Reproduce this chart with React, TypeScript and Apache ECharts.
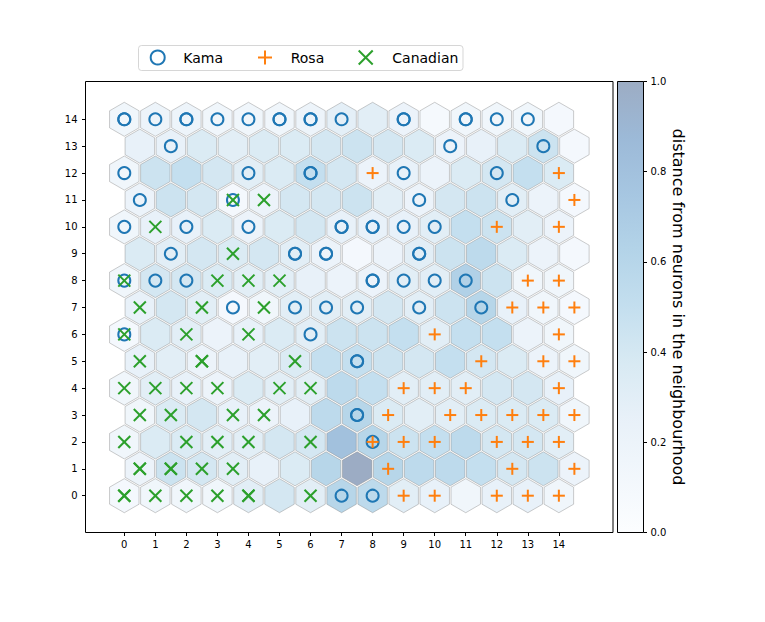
import React, { useEffect, useRef } from "react";
import * as echarts from "echarts";

// U-matrix (distance map), umatrix[row][col], row 0 at bottom
const umatrix: number[][] = [
  [0.1, 0.15, 0.15, 0.15, 0.3, 0.4, 0.3, 0.6, 0.55, 0.3, 0.25, 0.15, 0.25, 0.25, 0.15],
  [0.2, 0.45, 0.4, 0.3, 0.25, 0.35, 0.6, 1.0, 0.6, 0.55, 0.55, 0.5, 0.4, 0.45, 0.2],
  [0.15, 0.35, 0.35, 0.3, 0.3, 0.4, 0.4, 0.8, 0.6, 0.45, 0.5, 0.55, 0.4, 0.4, 0.3],
  [0.15, 0.35, 0.4, 0.25, 0.2, 0.25, 0.55, 0.6, 0.35, 0.3, 0.3, 0.35, 0.35, 0.35, 0.15],
  [0.15, 0.3, 0.25, 0.2, 0.35, 0.3, 0.3, 0.55, 0.5, 0.3, 0.3, 0.3, 0.4, 0.4, 0.25],
  [0.25, 0.3, 0.2, 0.25, 0.3, 0.35, 0.5, 0.5, 0.45, 0.4, 0.5, 0.4, 0.35, 0.2, 0.15],
  [0.1, 0.35, 0.3, 0.2, 0.25, 0.35, 0.3, 0.45, 0.45, 0.5, 0.3, 0.5, 0.5, 0.2, 0.15],
  [0.25, 0.4, 0.3, 0.1, 0.15, 0.3, 0.3, 0.3, 0.4, 0.3, 0.45, 0.6, 0.25, 0.15, 0.1],
  [0.15, 0.4, 0.4, 0.35, 0.3, 0.3, 0.25, 0.2, 0.2, 0.3, 0.3, 0.65, 0.45, 0.15, 0.15],
  [0.35, 0.3, 0.4, 0.35, 0.4, 0.3, 0.2, 0.1, 0.2, 0.3, 0.45, 0.55, 0.35, 0.2, 0.1],
  [0.15, 0.25, 0.25, 0.35, 0.2, 0.35, 0.4, 0.25, 0.25, 0.25, 0.3, 0.5, 0.45, 0.3, 0.2],
  [0.2, 0.45, 0.4, 0.1, 0.2, 0.4, 0.4, 0.45, 0.3, 0.2, 0.4, 0.45, 0.3, 0.2, 0.1],
  [0.15, 0.45, 0.5, 0.4, 0.3, 0.35, 0.5, 0.4, 0.2, 0.25, 0.2, 0.35, 0.4, 0.5, 0.35],
  [0.25, 0.25, 0.35, 0.3, 0.35, 0.35, 0.4, 0.45, 0.4, 0.35, 0.2, 0.25, 0.35, 0.45, 0.1],
  [0.15, 0.18, 0.18, 0.15, 0.15, 0.15, 0.18, 0.28, 0.3, 0.2, 0.08, 0.15, 0.15, 0.15, 0.1],
];

// winning neurons [col, row] of each sample
const kama: [number, number][] = [
  [0, 14], [0, 14], [1, 14], [2, 14], [2, 14], [3, 14], [4, 14], [5, 14], [5, 14], [6, 14], [6, 14],
  [7, 14], [9, 14], [9, 14], [11, 14], [11, 14], [12, 14], [13, 14],
  [1, 13], [10, 13], [13, 13],
  [0, 12], [4, 12], [6, 12], [6, 12], [9, 12], [12, 12],
  [0, 11], [3, 11], [9, 11], [12, 11],
  [0, 10], [2, 10], [4, 10], [7, 10], [7, 10], [8, 10], [8, 10], [9, 10], [10, 10],
  [1, 9], [5, 9], [5, 9], [6, 9], [6, 9], [9, 9], [9, 9],
  [0, 8], [1, 8], [2, 8], [8, 8], [8, 8], [9, 8], [10, 8], [11, 8],
  [3, 7], [5, 7], [6, 7], [7, 7], [9, 7], [11, 7],
  [0, 6], [6, 6],
  [7, 5], [7, 5],
  [7, 3], [7, 3],
  [8, 2],
  [7, 0], [8, 0],
];
const rosa: [number, number][] = [
  [8, 12], [14, 12],
  [14, 11],
  [12, 10], [14, 10],
  [13, 8], [14, 8],
  [12, 7], [13, 7], [14, 7],
  [10, 6], [14, 6],
  [11, 5], [13, 5], [14, 5],
  [9, 4], [10, 4], [11, 4], [14, 4],
  [8, 3], [10, 3], [11, 3], [12, 3], [13, 3], [14, 3],
  [8, 2], [9, 2], [10, 2], [12, 2], [13, 2], [14, 2],
  [8, 1], [12, 1], [14, 1],
  [9, 0], [10, 0], [12, 0], [13, 0], [14, 0],
];
const canadian: [number, number][] = [
  [3, 11], [4, 11],
  [1, 10],
  [3, 9],
  [0, 8], [3, 8], [4, 8], [5, 8],
  [0, 7], [2, 7], [4, 7],
  [0, 6], [2, 6], [4, 6],
  [0, 5], [2, 5], [2, 5], [5, 5],
  [0, 4], [1, 4], [2, 4], [3, 4], [5, 4], [6, 4],
  [0, 3], [1, 3], [3, 3], [4, 3],
  [0, 2], [2, 2], [3, 2], [4, 2], [6, 2],
  [0, 1], [0, 1], [1, 1], [1, 1], [2, 1], [3, 1],
  [0, 0], [0, 0], [1, 0], [2, 0], [3, 0], [4, 0], [4, 0], [6, 0],
];

const xTicks = [0, 1, 2, 3, 4, 5, 6, 7, 8, 9, 10, 11, 12, 13, 14];
const yTicks = [0, 1, 2, 3, 4, 5, 6, 7, 8, 9, 10, 11, 12, 13, 14];
const classNames = ["Kama", "Rosa", "Canadian"];
const classColors = ["#1f77b4", "#ff7f0e", "#2ca02c"];

const BLUES = [
  [247, 251, 255], [222, 235, 247], [198, 219, 239], [158, 202, 225], [107, 174, 214],
  [66, 146, 198], [33, 113, 181], [8, 81, 156], [8, 48, 107],
];
function blues(u: number, alpha = 0.4): string {
  const t = Math.max(0, Math.min(1, u)) * (BLUES.length - 1);
  const i = Math.min(BLUES.length - 2, Math.floor(t));
  const f = t - i;
  const c = BLUES[i].map((v, k) => Math.round(v + (BLUES[i + 1][k] - v) * f));
  return `rgba(${c[0]},${c[1]},${c[2]},${alpha})`;
}

const FONT = "DejaVu Sans";
const toXY = (p: [number, number]) => [p[0] + (p[1] % 2) * 0.5, p[1]];

export default function App() {
  const ref = useRef<HTMLDivElement>(null);
  useEffect(() => {
    if (!ref.current) return;
    const chart = echarts.init(ref.current, null, { renderer: "svg" });
    const hexData: number[][] = [];
    umatrix.forEach((rowVals, r) =>
      rowVals.forEach((u, c) => hexData.push([c + (r % 2) * 0.5, r, u]))
    );

    const markerSeries = [kama, rosa, canadian].map((pts, ci) => ({
      type: "custom",
      name: classNames[ci],
      xAxisIndex: 0,
      yAxisIndex: 0,
      silent: true,
      z: 3 + ci,
      data: pts.map(toXY),
      renderItem: (params: any, api: any) => {
        const c = api.coord([api.value(0), api.value(1)]);
        const col = classColors[ci];
        const s = 6;
        if (ci === 0) {
          return {
            type: "circle",
            shape: { cx: c[0], cy: c[1], r: s },
            style: { fill: "none", stroke: col, lineWidth: 2 },
          };
        }
        const lines =
          ci === 1
            ? [
                [c[0] - s, c[1], c[0] + s, c[1]],
                [c[0], c[1] - s, c[0], c[1] + s],
              ]
            : [
                [c[0] - s, c[1] - s, c[0] + s, c[1] + s],
                [c[0] - s, c[1] + s, c[0] + s, c[1] - s],
              ];
        return {
          type: "group",
          children: lines.map((l) => ({
            type: "line",
            shape: { x1: l[0], y1: l[1], x2: l[2], y2: l[3] },
            style: { stroke: col, lineWidth: 2, lineCap: "butt" },
          })),
        };
      },
    }));

    const gradStops = BLUES.map((_, i) => ({
      offset: i / (BLUES.length - 1),
      color: blues(1 - i / (BLUES.length - 1)),
    }));

    const axisLabelStyle = { color: "#000", fontSize: 10, fontFamily: FONT };

    const lx = 138.5, ly = 45.5;
    const legendChildren: any[] = [
      {
        type: "rect",
        shape: { x: lx, y: ly, width: 324.5, height: 25, r: 3 },
        style: { fill: "rgba(255,255,255,0.8)", stroke: "rgba(204,204,204,0.8)", lineWidth: 1 },
      },
      {
        type: "circle",
        shape: { cx: 157.7, cy: 57.5, r: 7 },
        style: { fill: "none", stroke: classColors[0], lineWidth: 2 },
      },
      { type: "line", shape: { x1: 258, y1: 57.5, x2: 272, y2: 57.5 }, style: { stroke: classColors[1], lineWidth: 2 } },
      { type: "line", shape: { x1: 265, y1: 50.5, x2: 265, y2: 64.5 }, style: { stroke: classColors[1], lineWidth: 2 } },
      { type: "line", shape: { x1: 358.7, y1: 50.5, x2: 372.7, y2: 64.5 }, style: { stroke: classColors[2], lineWidth: 2 } },
      { type: "line", shape: { x1: 358.7, y1: 64.5, x2: 372.7, y2: 50.5 }, style: { stroke: classColors[2], lineWidth: 2 } },
    ];
    [183.3, 290.7, 392.3].forEach((tx, i) =>
      legendChildren.push({
        type: "text",
        x: tx,
        y: 57.5,
        style: {
          text: classNames[i],
          fill: "#000",
          font: `14px "${FONT}"`,
          textVerticalAlign: "middle",
          textAlign: "left",
        },
      })
    );

    chart.setOption({
      animation: false,
      backgroundColor: "#fff",
      grid: [
        { left: 85.5, top: 81.5, width: 527.5, height: 451, show: true, borderColor: "#000", borderWidth: 1, backgroundColor: "transparent" },
        { left: 617.5, top: 81.5, width: 26, height: 451, show: false },
      ],
      xAxis: [
        {
          type: "value",
          gridIndex: 0,
          position: "bottom",
          min: -1.25,
          max: 15.744,
          axisLine: { show: false, onZero: false },
          splitLine: { show: false },
          axisTick: { show: true, length: 3.5, lineStyle: { color: "#000" }, customValues: xTicks },
          axisLabel: { ...axisLabelStyle, margin: 7, customValues: xTicks, formatter: (v: number) => String(Math.round(v)) },
        },
        { type: "value", gridIndex: 1, min: 0, max: 1, show: false, axisLine: { onZero: false } },
      ],
      yAxis: [
        {
          type: "value",
          gridIndex: 0,
          position: "left",
          min: -1.369,
          max: 15.406,
          axisLine: { show: false, onZero: false },
          splitLine: { show: false },
          axisTick: { show: true, length: 3.5, lineStyle: { color: "#000" }, customValues: yTicks },
          axisLabel: { ...axisLabelStyle, margin: 8, customValues: yTicks, formatter: (v: number) => String(Math.round(v)) },
        },
        {
          type: "value",
          gridIndex: 1,
          position: "right",
          min: 0,
          max: 1,
          interval: 0.2,
          axisLine: { show: false, onZero: false },
          splitLine: { show: false },
          axisTick: { show: true, length: 3.5, lineStyle: { color: "#000" } },
          axisLabel: { ...axisLabelStyle, margin: 7, formatter: (v: number) => v.toFixed(1) },
          name: "distance from neurons in the neighbourhood",
          nameLocation: "middle",
          nameRotate: -90,
          nameGap: 26,
          nameTextStyle: { color: "#000", fontSize: 16, fontFamily: FONT },
        },
      ],
      graphic: [{ type: "group", children: legendChildren }],
      series: [
        {
          type: "custom",
          xAxisIndex: 0,
          yAxisIndex: 0,
          silent: true,
          z: 2,
          data: hexData,
          renderItem: (params: any, api: any) => {
            const c = api.coord([api.value(0), api.value(1)]);
            const ux = api.size([1, 0])[0];
            const R = (0.95 / Math.sqrt(3)) * ux;
            const pts: number[][] = [];
            for (let k = 0; k < 6; k++) {
              const a = Math.PI / 2 + (k * Math.PI) / 3;
              pts.push([c[0] + R * Math.cos(a), c[1] - R * Math.sin(a)]);
            }
            return {
              type: "polygon",
              shape: { points: pts },
              style: { fill: blues(api.value(2)), stroke: "rgba(128,128,128,0.4)", lineWidth: 1 },
            };
          },
        },
        ...markerSeries,
        {
          type: "custom",
          xAxisIndex: 1,
          yAxisIndex: 1,
          silent: true,
          data: [[0, 0]],
          renderItem: (params: any, api: any) => {
            const p0 = api.coord([0, 1]);
            const p1 = api.coord([1, 0]);
            return {
              type: "rect",
              shape: { x: p0[0], y: p0[1], width: p1[0] - p0[0], height: p1[1] - p0[1] },
              style: {
                fill: new echarts.graphic.LinearGradient(0, 0, 0, 1, gradStops),
                stroke: "#000",
                lineWidth: 1,
              },
            };
          },
        },
      ],
    });
    return () => chart.dispose();
  }, []);
  return (
    <div
      ref={ref}
      style={{ position: "absolute", left: 0, top: 0, width: 765, height: 622 }}
    />
  );
}
